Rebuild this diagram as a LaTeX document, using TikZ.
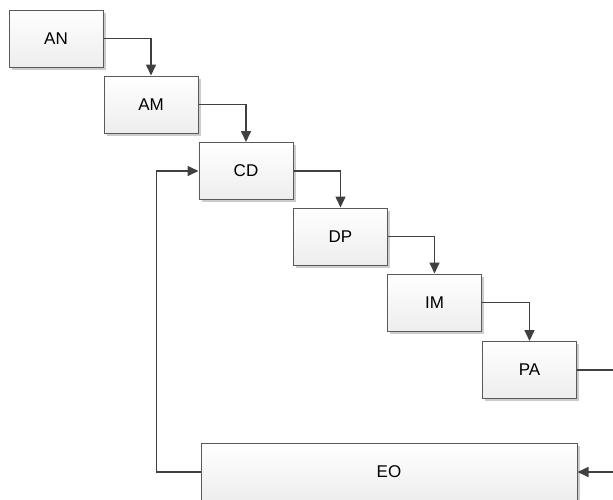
\documentclass[tikz,border=0pt]{standalone}
\usepackage{fontspec}
\setmainfont{Liberation Sans}
\usetikzlibrary{arrows.meta,shadows}

\definecolor{rand}{HTML}{5A5A5A}
\definecolor{lijn}{HTML}{404040}

\tikzset{
  blok/.style={draw=rand, line width=1pt, top color=white, bottom color=black!7,
    minimum width=94pt, minimum height=57pt, inner sep=0pt,
    font=\fontsize{17}{19}\selectfont,
    drop shadow={shadow xshift=2.5pt, shadow yshift=-2.5pt, fill=black!20, opacity=1}},
  link/.style={draw=lijn, line width=1.6pt, -{Triangle[length=11pt,width=10pt]}}
}

\begin{document}
\begin{tikzpicture}[x=1pt, y=-1pt]
  \useasboundingbox (0,0) rectangle (613,499);
  %Stages
  \foreach \nm/\x/\y in {AN/56/38.5, AM/151/104.5, CD/246/171, DP/340.5/236.5, IM/434.5/302.5, PA/529.5/370}
    \node[blok] (\nm) at (\x,\y) {\nm};
  \node[blok, minimum width=376pt] (EO) at (389,472) {EO};
  %Steps down
  \foreach \a/\b in {AN/AM, AM/CD, CD/DP, DP/IM, IM/PA}
    \draw[link] (\a.east) -| (\b.north);
  %Edges
  \coordinate (uit) at (615,370);
  \coordinate (in) at (615,472);
  \draw[link, -] (PA.east) -- (uit);
  \draw[link] (in) -- (EO.east);
  %Loop back
  \draw[link] (EO.west) -- ++(-44,0) |- (CD.west);
\end{tikzpicture}
\end{document}
